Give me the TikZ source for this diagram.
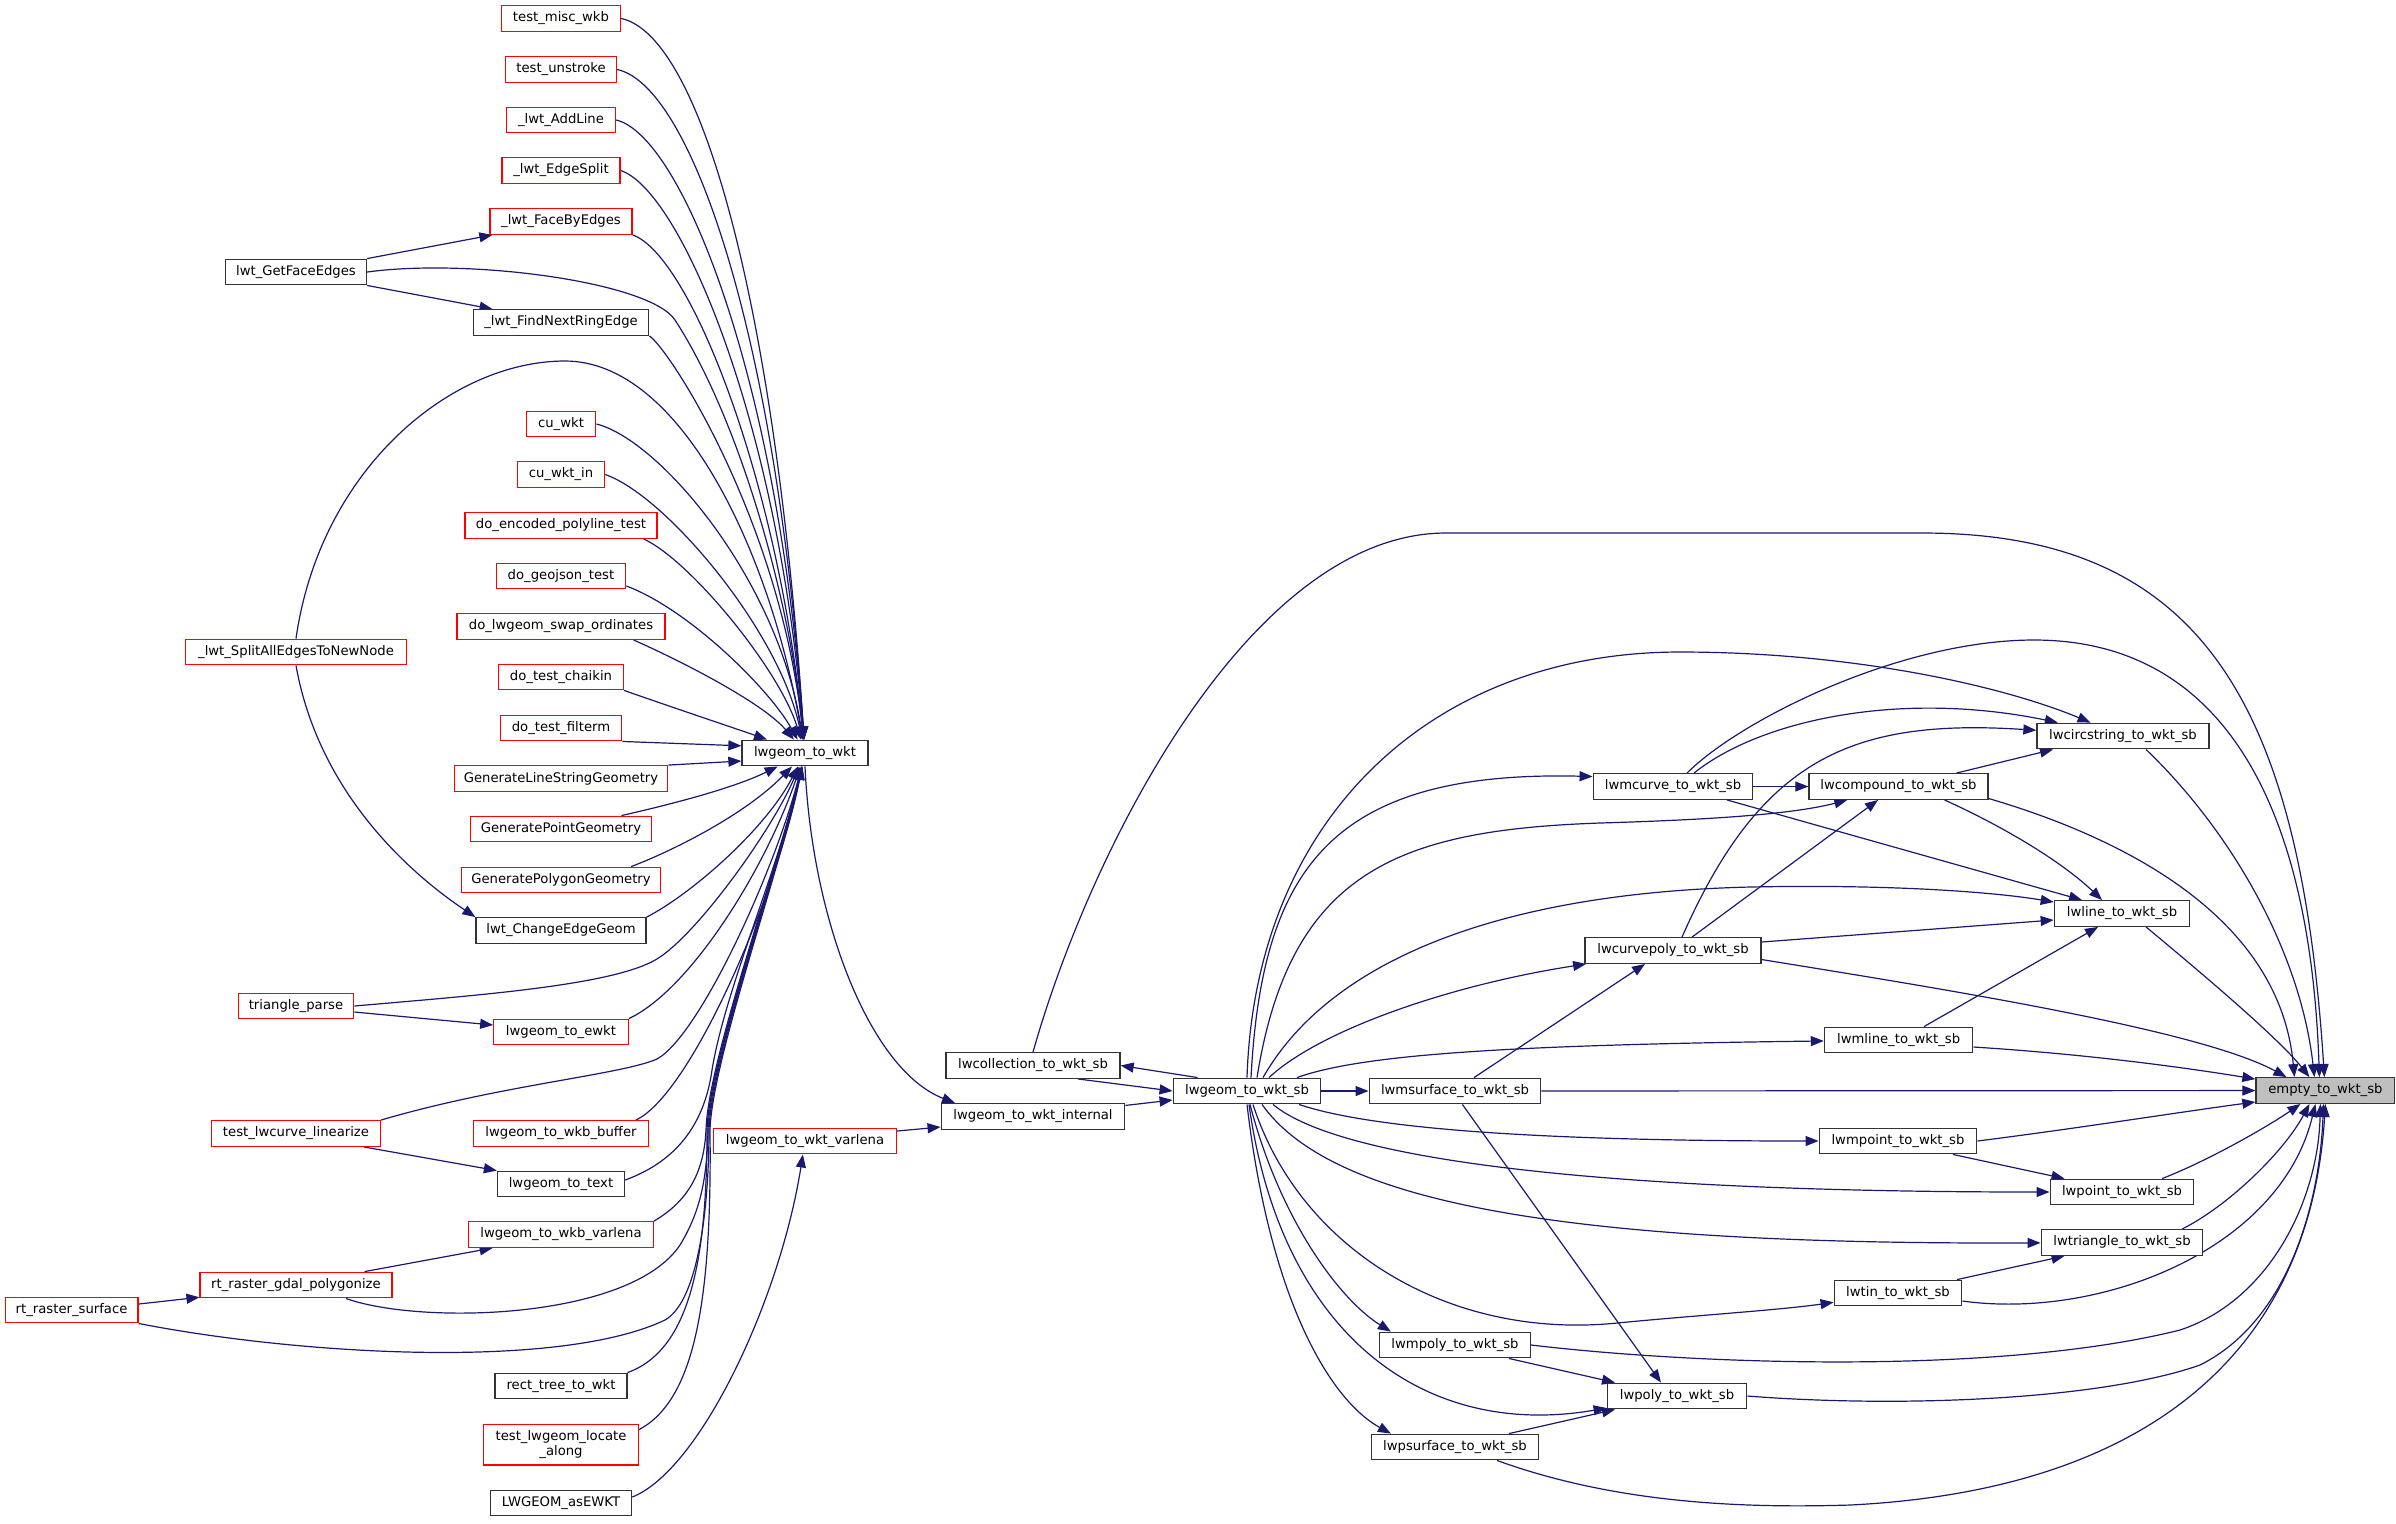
\documentclass[tikz,border=0pt]{standalone}
\usepackage{fontspec}
\setmainfont{DejaVu Sans}
\usetikzlibrary{arrows.meta,backgrounds}
\definecolor{edgecol}{HTML}{191970}
\definecolor{rootfill}{HTML}{BFBFBF}
\definecolor{nodered}{HTML}{FF0000}
\definecolor{nodeblk}{HTML}{333333}
\begin{document}
\begin{tikzpicture}[x=0.5pt,y=-0.5pt,
  fn/.style={rectangle, draw, line width=0.65pt, fill=white, inner xsep=2pt, inner ysep=0pt,
    minimum height=12.8pt, font=\fontsize{6.6}{7.6}\selectfont, text=black},
  rfn/.style={fn, draw=nodered},
  bfn/.style={fn, draw=nodeblk},
  rootfn/.style={fn, draw=nodeblk, fill=rootfill},
  w/.style={minimum width=#1pt},
  call/.style={draw=edgecol, line width=0.6pt, -{Triangle[length=6.5pt,width=5pt]}},
]
\useasboundingbox (0,0) rectangle (2396,1523);

% ---------------- nodes ----------------
\node[rfn,w=59.5] (n1) at (561,18.5) {test\_misc\_wkb};
\node[rfn,w=55.5] (n2) at (561,69.5) {test\_unstroke};
\node[rfn,w=54.5] (n3) at (561,120) {\_lwt\_AddLine};
\node[rfn,w=59] (n4) at (561,170.5) {\_lwt\_EdgeSplit};
\node[rfn,w=71] (n5) at (561,221.5) {\_lwt\_FaceByEdges};
\node[bfn,w=70.5] (getface) at (296,272) {lwt\_GetFaceEdges};
\node[bfn,w=87.8] (n6) at (561,322.5) {\_lwt\_FindNextRingEdge};
\node[rfn,w=34.8] (cuwkt) at (561,424) {cu\_wkt};
\node[rfn,w=43.5] (cuwktin) at (561,474.5) {cu\_wkt\_in};
\node[rfn,w=95.9] (enc) at (561,525.5) {do\_encoded\_polyline\_test};
\node[rfn,w=64.8] (geojson) at (561,576) {do\_geojson\_test};
\node[rfn,w=103.9] (swap) at (561,626.5) {do\_lwgeom\_swap\_ordinates};
\node[rfn,w=110.2] (split) at (296,652) {\_lwt\_SplitAllEdgesToNewNode};
\node[rfn,w=62.5] (chaikin) at (561,677) {do\_test\_chaikin};
\node[rfn,w=60.8] (filterm) at (561,728) {do\_test\_filterm};
\node[bfn,w=63] (towkt) at (805,753) {lwgeom\_to\_wkt};
\node[rfn,w=106.8] (genline) at (561,778.5) {GenerateLineStringGeometry};
\node[rfn,w=90.8] (genpt) at (561,829) {GeneratePointGeometry};
\node[rfn,w=99.5] (genpoly) at (561,880) {GeneratePolygonGeometry};
\node[bfn,w=85] (change) at (561,930.5) {lwt\_ChangeEdgeGeom};
\node[rfn,w=57.7] (tri) at (296,1006) {triangle\_parse};
\node[rfn,w=67.2] (ewkt) at (561,1032) {lwgeom\_to\_ewkt};
\node[rfn,w=84.3] (linearize) at (296,1133.5) {test\_lwcurve\_linearize};
\node[rfn,w=87.2] (wkbbuf) at (561,1133.5) {lwgeom\_to\_wkb\_buffer};
\node[rfn,w=91.5] (varlena) at (805,1141) {lwgeom\_to\_wkt\_varlena};
\node[bfn,w=63.5] (totext) at (561,1184) {lwgeom\_to\_text};
\node[rfn,w=92.3] (wkbvar) at (561,1234.5) {lwgeom\_to\_wkb\_varlena};
\node[rfn,w=95.9] (polygonize) at (296,1285) {rt\_raster\_gdal\_polygonize};
\node[rfn,w=66.4] (surface) at (71.6,1310) {rt\_raster\_surface};
\node[bfn,w=65.9] (recttree) at (561,1386) {rect\_tree\_to\_wkt};
\node[rfn,w=77.3,minimum height=20.4pt,align=center] (locate) at (561,1444.7) {test\_lwgeom\_locate\\\_along};
\node[bfn,w=70.7] (asewkt) at (561,1503) {LWGEOM\_asEWKT};
\node[bfn,w=87] (coll) at (1033,1065.5) {lwcollection\_to\_wkt\_sb};
\node[bfn,w=91.8] (internal) at (1033,1116.4) {lwgeom\_to\_wkt\_internal};
\node[bfn,w=73.8] (sb) at (1247,1091) {lwgeom\_to\_wkt\_sb};
\node[bfn,w=85.8] (msurf) at (1455,1091) {lwmsurface\_to\_wkt\_sb};
\node[bfn,w=75.5] (mpoly) at (1455,1345) {lwmpoly\_to\_wkt\_sb};
\node[bfn,w=69.8] (poly) at (1677,1396) {lwpoly\_to\_wkt\_sb};
\node[bfn,w=83.5] (psurf) at (1455,1447) {lwpsurface\_to\_wkt\_sb};
\node[bfn,w=86] (circ) at (2123,736) {lwcircstring\_to\_wkt\_sb};
\node[bfn,w=79.8] (mcurve) at (1673,786.5) {lwmcurve\_to\_wkt\_sb};
\node[bfn,w=89.5] (comp) at (1898.5,786.5) {lwcompound\_to\_wkt\_sb};
\node[bfn,w=67.7] (nline) at (2122,913.5) {lwline\_to\_wkt\_sb};
\node[bfn,w=87.9] (cpoly) at (1673,950.5) {lwcurvepoly\_to\_wkt\_sb};
\node[bfn,w=74.2] (mline) at (1898.6,1040) {lwmline\_to\_wkt\_sb};
\node[rootfn,w=69.4] (nempty) at (2325.4,1090.5) {empty\_to\_wkt\_sb};
\node[bfn,w=78.8] (mpoint) at (1898,1141) {lwmpoint\_to\_wkt\_sb};
\node[bfn,w=71.8] (npoint) at (2122,1192) {lwpoint\_to\_wkt\_sb};
\node[bfn,w=80.8] (ntri) at (2122,1242.5) {lwtriangle\_to\_wkt\_sb};
\node[bfn,w=63.8] (tin) at (1898,1293) {lwtin\_to\_wkt\_sb};

% ---------------- edges ----------------
\begin{scope}[on background layer]
% into lwgeom_to_wkt from above
\draw[call] (n1.east) .. controls (700,35) and (775,300) .. (towkt);
\draw[call] (n2.east) .. controls (690,85) and (776,330) .. (towkt);
\draw[call] (n3.east) .. controls (680,135) and (777,370) .. (towkt);
\draw[call] (n4.east) .. controls (680,190) and (778,420) .. (towkt);
\draw[call] (n5.south east) .. controls (690,255) and (778,480) .. (towkt);
\draw[call] (getface.north east) -- ([xshift=1.5pt]n5.south west);
\draw[call] (getface.south east) -- ([xshift=10pt]n6.north west);
\draw[call] (getface.east) .. controls (470,258) and (650,282) .. (675,320) .. controls (740,420) and (790,600) .. (towkt);
\draw[call] (n6.south east) .. controls (670,350) and (780,520) .. (towkt);
\draw[call] (split.north) .. controls (320,470) and (450,361) .. (565,361) .. controls (680,361) and (770,550) .. (towkt);
\draw[call] (split.south) .. controls (320,800) and (420,880) .. (change.north west);
\draw[call] (cuwkt.east) .. controls (660,440) and (778,580) .. (towkt);
\draw[call] (cuwktin.east) .. controls (665,495) and (779,630) .. (towkt);
\draw[call] ([xshift=-7pt]enc.south east) .. controls (690,560) and (780,670) .. (towkt);
\draw[call] ([yshift=-5pt]geojson.east) .. controls (690,610) and (770,690) .. (towkt);
\draw[call] ([xshift=-16pt]swap.south east) .. controls (690,665) and (765,705) .. (towkt);
\draw[call] (chaikin.south east) .. controls (680,710) and (740,730) .. (towkt);
\draw[call] (filterm.south east) -- ([yshift=3.6pt]towkt.west);
\draw[call] (genline.north east) -- ([yshift=-4pt]towkt.west);
% into lwgeom_to_wkt from below
\draw[call] ([xshift=-15.5pt]genpt.north east) .. controls (690,800) and (740,785) .. (towkt);
\draw[call] ([xshift=-15pt]genpoly.north east) .. controls (670,852) and (745,815) .. (towkt);
\draw[call] (change.north east) .. controls (690,895) and (765,830) .. (towkt);
\draw[call] (tri.east) .. controls (480,995) and (620,985) .. (660,957) .. controls (700,930) and (772,830) .. (towkt);
\draw[call] ([yshift=-3pt]tri.east) -- ([yshift=3.5pt]ewkt.west);
\draw[call] (ewkt.north east) .. controls (690,990) and (765,870) .. (towkt);
\draw[call] (linearize.north east) .. controls (500,1085) and (620,1075) .. (657,1059) .. controls (700,1035) and (775,870) .. (towkt);
\draw[call] ([xshift=-8.5pt]linearize.south east) -- (totext.north west);
\draw[call] ([xshift=-6.5pt]wkbbuf.north east) .. controls (690,1095) and (775,900) .. (towkt);
\draw[call] ([yshift=2pt]totext.east) .. controls (680,1160) and (705,1120) .. (712,1070) .. controls (725,990) and (778,870) .. (towkt);
\draw[call] (wkbvar.north east) .. controls (690,1200) and (704,1170) .. (706,1130) .. controls (708,1060) and (777,870) .. (towkt);
\draw[call] ([xshift=25pt]polygonize.south) .. controls (420,1325) and (630,1320) .. (680,1245) .. controls (700,1212) and (707,1180) .. (708,1130) .. controls (710,1060) and (778,870) .. (towkt);
\draw[call] ([xshift=-14pt]polygonize.north east) -- ([xshift=12.3pt]wkbvar.south west);
\draw[call] ([yshift=3pt]surface.east) -- ([yshift=0.6pt]polygonize.south west);
\draw[call] (surface.south east) .. controls (300,1355) and (560,1370) .. (665,1320) .. controls (700,1300) and (709,1200) .. (709,1130) .. controls (711,1060) and (779,870) .. (towkt);
\draw[call] (recttree.north east) .. controls (690,1350) and (707,1260) .. (707,1130) .. controls (709,1060) and (778,870) .. (towkt);
\draw[call] ([yshift=-3pt]locate.north east) .. controls (695,1400) and (712,1300) .. (710,1130) .. controls (712,1060) and (780,870) .. (towkt);
% varlena / internal / sb
\draw[call] ([yshift=3pt]asewkt.east) .. controls (700,1470) and (780,1300) .. (varlena);
\draw[call] ([yshift=5pt]varlena.east) -- ([yshift=-5.3pt]internal.west);
\draw[call] (towkt.south) .. controls (812,920) and (870,1070) .. ([xshift=-39pt]internal.north);
\draw[call] ([yshift=5.5pt]internal.east) -- ([yshift=-4.5pt]sb.west);
\draw[call] ([xshift=22.5pt]coll.south) -- (sb.west);
\draw[call] ([xshift=12.5pt]sb.north west) -- (coll.east);
% from lwgeom_to_wkt_sb
\draw[call] (sb) -- (msurf);
\draw[call] (sb.north) .. controls (1255,820) and (1430,652) .. (1680,652) .. controls (1850,652) and (2000,685) .. (circ);
\draw[call] ([xshift=2pt]sb.north) .. controls (1262,870) and (1330,770) .. ([yshift=5pt]mcurve.west);
\draw[call] ([xshift=5pt]sb.north) .. controls (1290,870) and (1400,830) .. (1600,823) .. controls (1700,820) and (1790,815) .. (comp);
\draw[call] ([xshift=8pt]sb.north) .. controls (1330,960) and (1500,893) .. (1750,887) .. controls (1900,884) and (2000,893) .. (nline);
\draw[call] ([xshift=11pt]sb.north) .. controls (1320,1030) and (1450,985) .. (cpoly);
\draw[call] ([xshift=25pt]sb.north) .. controls (1360,1055) and (1500,1045) .. (mline);
\draw[call] ([xshift=26pt]sb.south) .. controls (1360,1125) and (1500,1141) .. (mpoint);
\draw[call] ([xshift=13pt]sb.south) .. controls (1340,1160) and (1600,1192) .. (npoint);
\draw[call] ([xshift=7.5pt]sb.south) .. controls (1330,1200) and (1550,1245) .. (ntri);
\draw[call] ([xshift=3pt]sb.south) .. controls (1300,1250) and (1450,1340) .. (1617,1323) .. controls (1700,1315) and (1780,1310) .. (tin);
\draw[call] ([xshift=1.5pt]sb.south) .. controls (1280,1220) and (1340,1300) .. ([xshift=6pt]mpoly.north west);
\draw[call] ([xshift=1pt]sb.south) .. controls (1280,1330) and (1420,1440) .. (poly);
\draw[call] (sb.south) .. controls (1270,1300) and (1330,1400) .. ([xshift=10pt]psurf.north west);
% lwcollection -> empty
\draw[call] (coll.north) .. controls (1090,850) and (1250,533) .. (1446,533) -- (1922,533) .. controls (2200,533) and (2300,700) .. ([xshift=-0.5pt]nempty.north);
% msurface / mpoly / psurface / poly
\draw[call] ([xshift=9.5pt]msurf.north) -- ([xshift=-14pt]cpoly.south);
\draw[call] ([xshift=3.7pt]msurf.south) -- ([xshift=-8pt]poly.north);
\draw[call] (msurf) -- (nempty);
\draw[call] ([xshift=27pt]mpoly.south) -- ([xshift=-31pt]poly.north);
\draw[call] ([xshift=27pt]psurf.north) -- ([xshift=-31pt]poly.south);
\draw[call] (mpoly.east) .. controls (1700,1365) and (2000,1375) .. (2180,1330) .. controls (2270,1300) and (2318,1200) .. ([xshift=-2.5pt]nempty.south);
\draw[call] (poly.east) .. controls (1900,1408) and (2100,1400) .. (2200,1365) .. controls (2290,1320) and (2320,1200) .. ([xshift=-1pt]nempty.south);
\draw[call] ([xshift=21pt]psurf.south) .. controls (1620,1505) and (1750,1508) .. (1850,1505) .. controls (2150,1490) and (2310,1350) .. (nempty.south);
% lower right group
\draw[call] ([yshift=-4pt]tin.east) .. controls (2100,1320) and (2280,1250) .. ([xshift=-5pt]nempty.south);
\draw[call] ([xshift=30pt]ntri.north) .. controls (2230,1205) and (2285,1150) .. ([xshift=-8pt]nempty.south);
\draw[call] ([xshift=20pt]npoint.north) .. controls (2210,1160) and (2270,1125) .. ([xshift=-12.5pt]nempty.south);
\draw[call] (mpoint.east) .. controls (2080,1128) and (2180,1112) .. ([yshift=1pt]nempty.south west);
\draw[call] ([xshift=27.5pt]mpoint.south) -- ([xshift=-28.75pt]npoint.north);
\draw[call] ([xshift=29.5pt]tin.north) -- ([xshift=-28.75pt]ntri.south);
% upper right group
\draw[call] ([yshift=-3.5pt]mline.east) .. controls (2100,1055) and (2200,1070) .. ([yshift=-1pt]nempty.north west);
\draw[call] ([yshift=-4.5pt]cpoly.east) .. controls (1950,990) and (2200,1030) .. ([xshift=-19.5pt]nempty.north);
\draw[call] ([xshift=12pt]nline.south) .. controls (2210,980) and (2280,1040) .. ([xshift=-8pt]nempty.north);
\draw[call] ([yshift=-6pt]comp.east) .. controls (2130,840) and (2280,920) .. ([xshift=-15.5pt]nempty.north);
\draw[call] ([xshift=11.5pt]circ.south) .. controls (2230,830) and (2300,950) .. ([xshift=-5.5pt]nempty.north);
\draw[call] ([xshift=7pt]mcurve.north) .. controls (1740,720) and (1900,640) .. (2034,640) .. controls (2220,640) and (2310,800) .. ([xshift=-3pt]nempty.north);
\draw[call] ([xshift=10.5pt]mcurve.north) .. controls (1760,720) and (1900,690) .. (circ);
\draw[call] ([xshift=4.5pt]cpoly.north) .. controls (1760,760) and (1850,718) .. (circ);
\draw[call] ([xshift=29pt]comp.north) -- ([xshift=-35pt]circ.south);
\draw[call] (mcurve) -- (comp);
\draw[call] ([xshift=27pt]mcurve.south) -- ([xshift=-20pt]nline.north);
\draw[call] ([xshift=23pt]comp.south) .. controls (2000,825) and (2060,860) .. ([xshift=-10pt]nline.north);
\draw[call] ([yshift=4.25pt]cpoly.east) -- ([yshift=-3.25pt]nline.west);
\draw[call] ([xshift=9.5pt]cpoly.north) -- ([xshift=-10.25pt]comp.south);
\draw[call] ([xshift=12.7pt]mline.north) -- ([xshift=-12pt]nline.south);
\end{scope}
\end{tikzpicture}
\end{document}
